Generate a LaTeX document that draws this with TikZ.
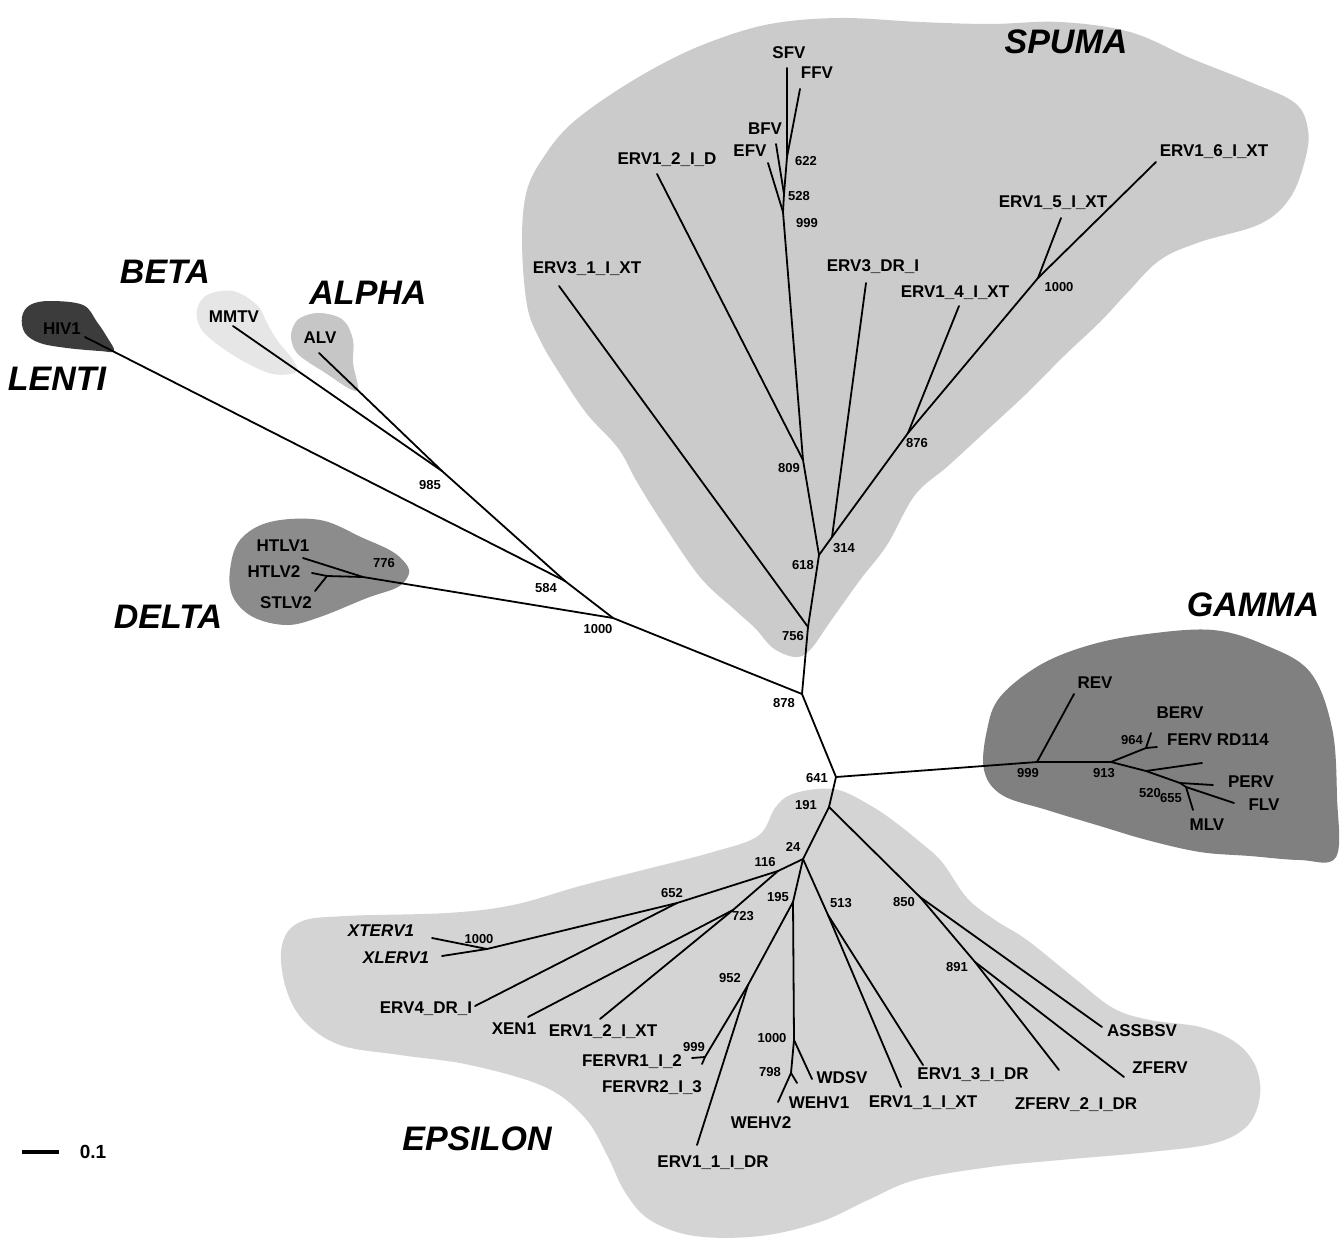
\documentclass[tikz,border=0pt]{standalone}
\usepackage{fontspec}
\setmainfont{Liberation Sans}
\definecolor{spumacol}{RGB}{203,203,203}
\definecolor{epsicol}{RGB}{212,212,212}
\definecolor{gammacol}{RGB}{128,128,128}
\definecolor{deltacol}{RGB}{140,140,140}
\definecolor{lenticol}{RGB}{60,60,60}
\definecolor{betacol}{RGB}{230,230,230}
\definecolor{alphacol}{RGB}{198,198,198}
\begin{document}
\begin{tikzpicture}[x=1pt,y=-1pt,
  br/.style={line width=1.8pt, line cap=round, line join=round},
  tx/.style={font=\bfseries\fontsize{17}{17}\selectfont, inner sep=0pt},
  txi/.style={font=\bfseries\itshape\fontsize{17}{17}\selectfont, inner sep=0pt},
  bs/.style={font=\bfseries\fontsize{13}{13}\selectfont, inner sep=0pt},
  grp/.style={font=\bfseries\itshape\fontsize{34}{34}\selectfont, inner sep=0pt},
  blob/.style={draw=none}]
\useasboundingbox (0,0) rectangle (1343,1242);
\fill[white] (0,0) rectangle (1343,1242);

% ---------- clade backgrounds ----------
\fill[spumacol] plot[smooth cycle, tension=0.6] coordinates {
 (570,125) (610,95) (660,65) (710,42) (770,24) (840,18) (920,22) (990,24) (1060,22) (1130,32)
 (1190,58) (1250,82) (1295,103) (1308,130) (1305,160) (1290,198) (1260,224) (1200,242)
 (1160,260) (1127,293) (1100,322) (1065,355) (1025,395) (985,432) (948,466) (915,495)
 (887,545) (860,580) (830,622) (810,650) (795,657) (773,648) (755,628) (735,610)
 (700,577) (662,522) (637,482) (618,448) (587,414) (560,374) (540,340) (527,305)
 (522,240) (527,190) (545,155)};
\fill[epsicol] plot[smooth cycle, tension=0.6] coordinates {
 (790,795) (817,789) (842,791) (873,807) (895,822) (920,842) (942,862) (967,898)
 (995,920) (1027,940) (1073,977) (1113,1008) (1150,1020) (1200,1027) (1235,1042)
 (1255,1065) (1260,1095) (1248,1125) (1215,1143) (1150,1152) (1060,1160) (990,1167)
 (915,1180) (868,1200) (820,1222) (760,1236) (695,1236) (650,1220) (625,1192)
 (607,1155) (585,1118) (545,1087) (470,1065) (400,1055) (340,1045) (303,1020)
 (285,985) (282,945) (300,922) (345,916) (447,913) (513,905) (580,886) (647,869)
 (713,852) (758,836) (775,808)};
\fill[gammacol] plot[smooth cycle, tension=0.6] coordinates {
 (1000,697) (1040,665) (1090,645) (1147,634) (1213,630) (1265,645) (1310,672)
 (1332,728) (1337,797) (1336,857) (1300,860) (1250,856) (1200,852) (1147,840)
 (1100,826) (1047,810) (1002,795) (984,770) (987,730)};
\fill[deltacol] plot[smooth cycle, tension=0.6] coordinates {
 (230,570) (240,540) (270,522) (320,520) (363,538) (393,552) (408,567) (407,578)
 (396,588) (367,598) (320,617) (287,625) (253,617) (233,597)};
\fill[lenticol] plot[smooth cycle, tension=0.6] coordinates {
 (22,317) (30,305) (50,301) (83,305) (97,322) (107,337) (114,351) (100,351)
 (67,348) (40,343) (25,333)};
\fill[betacol] plot[smooth cycle, tension=0.6] coordinates {
 (197,310) (207,295) (233,291) (257,305) (267,323) (277,340) (293,360) (296,372)
 (273,374) (243,361) (213,341) (200,327)};
\fill[alphacol] plot[smooth cycle, tension=0.6] coordinates {
 (292,330) (300,318) (320,313) (343,320) (353,340) (353,363) (358,388) (350,389)
 (327,374) (300,356) (292,343)};

% ---------- tree coordinates ----------
% spuma
\coordinate (n622) at (787,157);
\coordinate (n528) at (784,194);
\coordinate (n999s) at (783,212);
\coordinate (tSFV) at (787,68);
\coordinate (tFFV) at (800,89);
\coordinate (tBFV) at (776,144);
\coordinate (tEFV) at (768,163);
\coordinate (n809) at (803,460);
\coordinate (tERVa) at (657,174);
\coordinate (n618) at (819,555);
\coordinate (n314) at (832,537);
\coordinate (tERVdr) at (866,283);
\coordinate (n876) at (908,433);
\coordinate (tERVf) at (959,306);
\coordinate (n1000s) at (1038,278);
\coordinate (tERVg) at (1061,218);
\coordinate (tERVh) at (1156,162);
\coordinate (n756) at (808,627);
\coordinate (tERVb) at (559,286);
\coordinate (n878) at (802,694);
% left
\coordinate (n1000L) at (613,618);
\coordinate (n584) at (565,581);
\coordinate (tHIV) at (85,337);
\coordinate (n985) at (442,471);
\coordinate (tMMTV) at (233,326);
\coordinate (tALV) at (319,353);
\coordinate (n776) at (363,577);
\coordinate (tHTLVa) at (303,558);
\coordinate (nHS) at (327,576);
\coordinate (tHTLVb) at (312,573);
\coordinate (tSTLV) at (315,591);
% gamma
\coordinate (n641) at (836,777);
\coordinate (n999g) at (1037,762);
\coordinate (tREV) at (1074,694);
\coordinate (n913) at (1111,762);
\coordinate (n964) at (1146,748);
\coordinate (tBERV) at (1151,733);
\coordinate (tFERV) at (1157,747);
\coordinate (nGa) at (1146,771);
\coordinate (tGx) at (1202,763);
\coordinate (n520) at (1180,783);
\coordinate (n655) at (1186,787);
\coordinate (tPERV) at (1213,785);
\coordinate (tFLV) at (1234,803);
\coordinate (tMLV) at (1193,810);
% epsilon
\coordinate (n191) at (829,807);
\coordinate (n850) at (920,897);
\coordinate (tASS) at (1102,1027);
\coordinate (n891) at (975,962);
\coordinate (tZFb) at (1059,1070);
\coordinate (tZF) at (1124,1077);
\coordinate (n24) at (803,859);
\coordinate (n513) at (828,915);
\coordinate (tE13) at (923,1065);
\coordinate (tE11x) at (901,1087);
\coordinate (n195) at (793,902);
\coordinate (n952) at (748,985);
\coordinate (nFF) at (705,1057);
\coordinate (tFa) at (692,1058);
\coordinate (tFb) at (702,1064);
\coordinate (tE11d) at (697,1145);
\coordinate (n1000e) at (794,1040);
\coordinate (tWDSV) at (812,1079);
\coordinate (n798) at (791,1073);
\coordinate (tWa) at (797,1083);
\coordinate (tWb) at (778,1102);
\coordinate (n116) at (778,871);
\coordinate (n652) at (677,903);
\coordinate (nXX) at (487,949);
\coordinate (tXT) at (432,938);
\coordinate (tXL) at (442,956);
\coordinate (tE4) at (475,1006);
\coordinate (n723) at (733,910);
\coordinate (tXEN) at (528,1017);
\coordinate (tE12x) at (600,1019);
% scale bar
\coordinate (sbA) at (22,1152);
\coordinate (sbB) at (59,1152);

% ---------- branches ----------
\draw[br] (n622) -- (tSFV);
\draw[br] (n622) -- (tFFV);
\draw[br] (n622) -- (n528);
\draw[br] (n528) -- (tBFV);
\draw[br] (n528) -- (n999s);
\draw[br] (n999s) -- (tEFV);
\draw[br] (n999s) -- (n809);
\draw[br] (n809) -- (tERVa);
\draw[br] (n809) -- (n618);
\draw[br] (n618) -- (n314);
\draw[br] (n314) -- (tERVdr);
\draw[br] (n314) -- (n876);
\draw[br] (n876) -- (tERVf);
\draw[br] (n876) -- (n1000s);
\draw[br] (n1000s) -- (tERVg);
\draw[br] (n1000s) -- (tERVh);
\draw[br] (n618) -- (n756);
\draw[br] (n756) -- (tERVb);
\draw[br] (n756) -- (n878);
\draw[br] (n878) -- (n1000L);
\draw[br] (n1000L) -- (n584);
\draw[br] (n584) -- (tHIV);
\draw[br] (n584) -- (n985);
\draw[br] (n985) -- (tMMTV);
\draw[br] (n985) -- (tALV);
\draw[br] (n1000L) -- (n776);
\draw[br] (n776) -- (tHTLVa);
\draw[br] (n776) -- (nHS);
\draw[br] (nHS) -- (tHTLVb);
\draw[br] (nHS) -- (tSTLV);
\draw[br] (n878) -- (n641);
\draw[br] (n641) -- (n999g);
\draw[br] (n999g) -- (tREV);
\draw[br] (n999g) -- (n913);
\draw[br] (n913) -- (n964);
\draw[br] (n964) -- (tBERV);
\draw[br] (n964) -- (tFERV);
\draw[br] (n913) -- (nGa);
\draw[br] (nGa) -- (tGx);
\draw[br] (nGa) -- (n520);
\draw[br] (n520) -- (tPERV);
\draw[br] (n520) -- (n655);
\draw[br] (n655) -- (tFLV);
\draw[br] (n655) -- (tMLV);
\draw[br] (n641) -- (n191);
\draw[br] (n191) -- (n850);
\draw[br] (n850) -- (tASS);
\draw[br] (n850) -- (n891);
\draw[br] (n891) -- (tZFb);
\draw[br] (n891) -- (tZF);
\draw[br] (n191) -- (n24);
\draw[br] (n24) -- (n513);
\draw[br] (n513) -- (tE13);
\draw[br] (n513) -- (tE11x);
\draw[br] (n24) -- (n195);
\draw[br] (n195) -- (n952);
\draw[br] (n952) -- (nFF);
\draw[br] (nFF) -- (tFa);
\draw[br] (nFF) -- (tFb);
\draw[br] (n952) -- (tE11d);
\draw[br] (n195) -- (n1000e);
\draw[br] (n1000e) -- (tWDSV);
\draw[br] (n1000e) -- (n798);
\draw[br] (n798) -- (tWa);
\draw[br] (n798) -- (tWb);
\draw[br] (n24) -- (n116);
\draw[br] (n116) -- (n652);
\draw[br] (n652) -- (nXX);
\draw[br] (nXX) -- (tXT);
\draw[br] (nXX) -- (tXL);
\draw[br] (n652) -- (tE4);
\draw[br] (n116) -- (n723);
\draw[br] (n723) -- (tXEN);
\draw[br] (n723) -- (tE12x);
\draw[line width=4pt] (sbA) -- (sbB);

% ---------- clade names ----------
\node[grp] (gSP) at (1066,42) {SPUMA};
\node[grp] (gBE) at (165,272) {BETA};
\node[grp] (gAL) at (368,293) {ALPHA};
\node[grp] (gLE) at (57,379) {LENTI};
\node[grp] (gDE) at (168,617) {DELTA};
\node[grp] (gGA) at (1253,605) {GAMMA};
\node[grp] (gEP) at (477,1139) {EPSILON};

% ---------- taxon labels ----------
\node[tx] (lSFV) at (789,53) {SFV};
\node[tx] (lFFV) at (817,73) {FFV};
\node[tx] (lBFV) at (765,129) {BFV};
\node[tx] (lEFV) at (750,151) {EFV};
\node[tx] (lERVa) at (667,160) {ERV1\_2\_I\_D};
\node[tx] (lERVh) at (1214,152) {ERV1\_6\_I\_XT};
\node[tx] (lERVg) at (1053,203) {ERV1\_5\_I\_XT};
\node[tx] (lERVb) at (587,269) {ERV3\_1\_I\_XT};
\node[tx] (lERVdr) at (873,267) {ERV3\_DR\_I};
\node[tx] (lERVf) at (955,293) {ERV1\_4\_I\_XT};
\node[tx] (lHIV) at (62,329) {HIV1};
\node[tx] (lMMTV) at (234,317) {MMTV};
\node[tx] (lALV) at (320,338) {ALV};
\node[tx] (lHa) at (283,546) {HTLV1};
\node[tx] (lHb) at (274,572) {HTLV2};
\node[tx] (lST) at (286,603) {STLV2};
\node[tx] (lREV) at (1095,683) {REV};
\node[tx] (lBERV) at (1180,713) {BERV};
\node[tx] (lFERV) at (1218,740) {FERV RD114};
\node[tx] (lPERV) at (1251,782) {PERV};
\node[tx] (lFLV) at (1264,805) {FLV};
\node[tx] (lMLV) at (1207,825) {MLV};
\node[txi] (lXT) at (381,931) {XTERV1};
\node[txi] (lXL) at (396,958) {XLERV1};
\node[tx] (lE4) at (426,1009) {ERV4\_DR\_I};
\node[tx] (lXEN) at (514,1029) {XEN1};
\node[tx] (lE12x) at (603,1032) {ERV1\_2\_I\_XT};
\node[tx] (lFa) at (632,1062) {FERVR1\_I\_2};
\node[tx] (lFb) at (652,1088) {FERVR2\_I\_3};
\node[tx] (lE11d) at (713,1163) {ERV1\_1\_I\_DR};
\node[tx] (lWDSV) at (842,1078) {WDSV};
\node[tx] (lWa) at (819,1103) {WEHV1};
\node[tx] (lWb) at (761,1123) {WEHV2};
\node[tx] (lE13) at (973,1075) {ERV1\_3\_I\_DR};
\node[tx] (lE11x) at (923,1103) {ERV1\_1\_I\_XT};
\node[tx] (lZFb) at (1076,1105) {ZFERV\_2\_I\_DR};
\node[tx] (lASS) at (1142,1031) {ASSBSV};
\node[tx] (lZF) at (1160,1068) {ZFERV};
\node[tx,font=\bfseries\fontsize{19}{19}\selectfont] (lSB) at (93,1152) {0.1};

% ---------- bootstrap values ----------
\node[bs] (b622) at (806,161) {622};
\node[bs] (b528) at (799,196) {528};
\node[bs] (b999s) at (807,223) {999};
\node[bs] (b809) at (789,468) {809};
\node[bs] (b618) at (803,565) {618};
\node[bs] (b314) at (844,548) {314};
\node[bs] (b756) at (793,636) {756};
\node[bs] (b878) at (784,703) {878};
\node[bs] (b641) at (817,778) {641};
\node[bs] (b191) at (806,805) {191};
\node[bs] (b876) at (917,443) {876};
\node[bs] (b1000s) at (1059,287) {1000};
\node[bs] (b985) at (430,485) {985};
\node[bs] (b776) at (384,563) {776};
\node[bs] (b584) at (546,588) {584};
\node[bs] (b1000L) at (598,629) {1000};
\node[bs] (b999g) at (1028,773) {999};
\node[bs] (b913) at (1104,773) {913};
\node[bs] (b964) at (1132,740) {964};
\node[bs] (b520) at (1150,793) {520};
\node[bs] (b655) at (1171,798) {655};
\node[bs] (b24) at (793,847) {24};
\node[bs] (b116) at (765,862) {116};
\node[bs] (b195) at (778,897) {195};
\node[bs] (b652) at (672,893) {652};
\node[bs] (b723) at (743,916) {723};
\node[bs] (b1000x) at (479,939) {1000};
\node[bs] (b952) at (730,978) {952};
\node[bs] (b999f) at (694,1047) {999};
\node[bs] (b1000w) at (772,1038) {1000};
\node[bs] (b798) at (770,1072) {798};
\node[bs] (b513) at (841,903) {513};
\node[bs] (b850) at (904,902) {850};
\node[bs] (b891) at (957,967) {891};
\end{tikzpicture}
\end{document}
